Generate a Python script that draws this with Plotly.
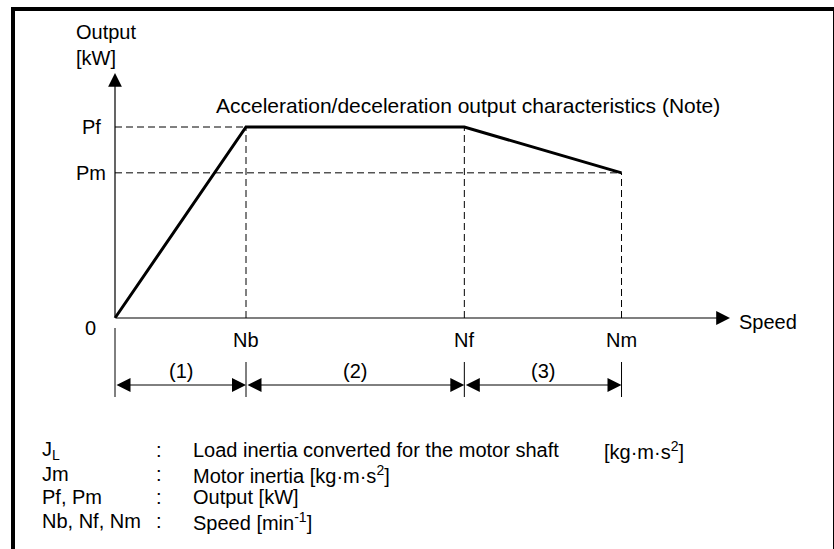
import plotly.graph_objects as go

# ---------------- data ----------------
speed_labels = ["Nb", "Nf", "Nm"]
speed_values = [1500, 4000, 5800]          # Nb, Nf, Nm (relative speed)
output_labels = ["Pf", "Pm"]
output_values = [15.0, 11.4]               # Pf, Pm (relative output)
region_labels = ["(1)", "(2)", "(3)"]
legend_symbols = ["J<sub>L</sub>", "Jm", "Pf, Pm", "Nb, Nf, Nm"]
legend_texts = [
    "Load inertia converted for the motor shaft",
    "Motor inertia [kg·m·s<sup>2</sup>]",
    "Output [kW]",
    "Speed [min<sup>-1</sup>]",
]
legend_unit_first = "[kg·m·s<sup>2</sup>]"
title_text = "Acceleration/deceleration output characteristics (Note)"

Nb, Nf, Nm = speed_values
Pf, Pm = output_values

# ---------------- layout geometry (pixels) ----------------
W, H = 834, 549
OX, OY = 115, 318                      # origin in pixels
SX = (246 - OX) / Nb                   # px per speed unit
SY = (OY - 127) / Pf                   # px per output unit


def dx(px):
    return (px - OX) / SX


def dy(py):
    return (OY - py) / SY


FONT = "Liberation Sans, Arial, Helvetica, sans-serif"
FS = 20

fig = go.Figure()

# dashed guide lines
gx, gy = [], []
for sv, ov in [(Nb, Pf), (Nf, Pf), (Nm, Pm)]:
    gx += [sv, sv, None]
    gy += [0, ov, None]
for ov, sv in [(Pf, Nb), (Pm, Nm)]:
    gx += [0, sv, None]
    gy += [ov, ov, None]
fig.add_trace(go.Scatter(x=gx, y=gy, mode="lines",
                         line=dict(color="black", width=1, dash="7px,4px"),
                         hoverinfo="skip", showlegend=False))

# characteristic curve
fig.add_trace(go.Scatter(x=[0, Nb, Nf, Nm], y=[0, Pf, Pf, Pm], mode="lines",
                         line=dict(color="black", width=3),
                         hoverinfo="skip", showlegend=False))

shapes = []
# outer border
shapes.append(dict(type="rect", xref="paper", yref="paper",
                   x0=13 / W, x1=835 / W, y0=-10 / H, y1=1 - 9 / H,
                   line=dict(color="black", width=4)))
# dimension tick lines
shapes.append(dict(type="line", xref="x", yref="y", x0=0, x1=0,
                   y0=dy(328), y1=dy(397), line=dict(color="black", width=1)))
for sv in speed_values:
    shapes.append(dict(type="line", xref="x", yref="y", x0=sv, x1=sv,
                       y0=dy(362), y1=dy(397), line=dict(color="black", width=1)))

ann = []
# axes with arrows
ann.append(dict(x=dx(730), y=0, ax=0, ay=0, xref="x", yref="y", axref="x", ayref="y",
                text="", showarrow=True, arrowhead=2, arrowsize=2.3, arrowwidth=1.2,
                arrowcolor="black"))
ann.append(dict(x=0, y=dy(73), ax=0, ay=0, xref="x", yref="y", axref="x", ayref="y",
                text="", showarrow=True, arrowhead=2, arrowsize=2.3, arrowwidth=1.2,
                arrowcolor="black"))
# dimension arrows
bounds = [0] + speed_values
for i in range(3):
    ann.append(dict(x=bounds[i + 1], y=dy(385), ax=bounds[i], ay=dy(385),
                    xref="x", yref="y", axref="x", ayref="y", text="",
                    showarrow=True, arrowhead=2, startarrowhead=2, arrowside="end+start",
                    arrowsize=2.8, startarrowsize=2.8, arrowwidth=1, arrowcolor="black"))
    ann.append(dict(x=(bounds[i] + bounds[i + 1]) / 2, y=dy(371), xref="x", yref="y",
                    text=region_labels[i], showarrow=False, xanchor="center",
                    yanchor="middle"))

# axis value labels
for lab, ov in zip(output_labels, output_values):
    ann.append(dict(x=dx(91), y=ov, xref="x", yref="y", text=lab, showarrow=False,
                    xanchor="center", yanchor="middle"))
ann.append(dict(x=dx(90), y=dy(328), xref="x", yref="y", text="0", showarrow=False,
                xanchor="center", yanchor="middle"))
for lab, sv in zip(speed_labels, speed_values):
    ann.append(dict(x=sv, y=dy(340), xref="x", yref="y", text=lab, showarrow=False,
                    xanchor="center", yanchor="middle"))

ann.append(dict(x=dx(737), y=dy(322), xref="x", yref="y", text="Speed",
                showarrow=False, xanchor="left", yanchor="middle"))
ann.append(dict(x=dx(74), y=dy(45), xref="x", yref="y", text="Output<br>[kW]",
                showarrow=False, xanchor="left", yanchor="middle", align="left"))
ann.append(dict(x=dx(214), y=dy(105), xref="x", yref="y", text=title_text,
                showarrow=False, xanchor="left", yanchor="middle",
                font=dict(size=21)))

# notes
rows_y = [450, 474, 497, 521]
for sym, txt, ry in zip(legend_symbols, legend_texts, rows_y):
    ann.append(dict(x=dx(40), y=dy(ry), xref="x", yref="y", text=sym, showarrow=False,
                    xanchor="left", yanchor="middle"))
    ann.append(dict(x=dx(154), y=dy(ry), xref="x", yref="y", text=":", showarrow=False,
                    xanchor="left", yanchor="middle"))
    ann.append(dict(x=dx(191), y=dy(ry), xref="x", yref="y", text=txt, showarrow=False,
                    xanchor="left", yanchor="middle"))
ann.append(dict(x=dx(602), y=dy(rows_y[0]), xref="x", yref="y", text=legend_unit_first,
                showarrow=False, xanchor="left", yanchor="middle"))

fig.update_layout(
    width=W, height=H,
    margin=dict(l=0, r=0, t=0, b=0),
    paper_bgcolor="white", plot_bgcolor="white",
    font=dict(family=FONT, size=FS, color="black"),
    xaxis=dict(range=[dx(0), dx(W)], visible=False, fixedrange=True),
    yaxis=dict(range=[dy(H), dy(0)], visible=False, fixedrange=True),
    shapes=shapes, annotations=ann,
    showlegend=False, hovermode=False,
)

fig.write_html("out.html", config=dict(displayModeBar=False, staticPlot=True),
               post_script="document.body.style.margin='0';")
